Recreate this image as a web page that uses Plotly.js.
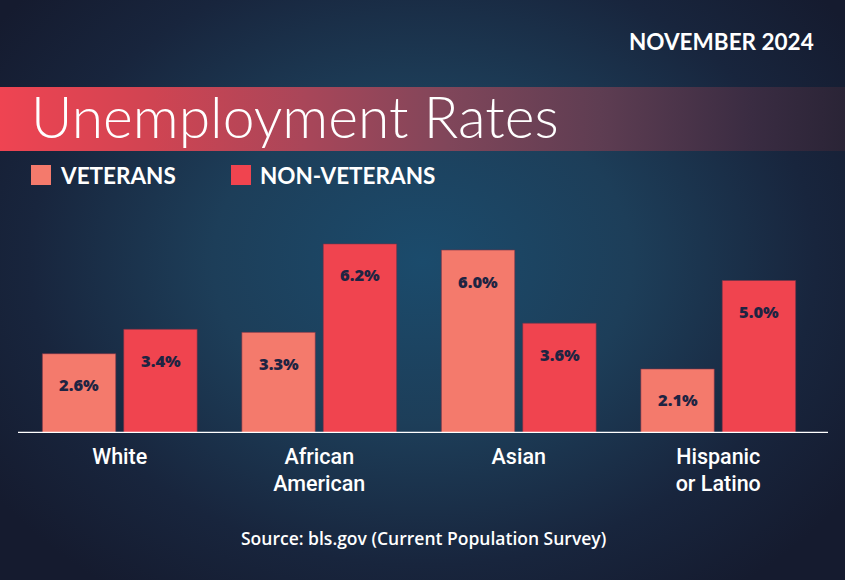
<!DOCTYPE html>
<html>
<head>
<meta charset="utf-8">
<script src="https://cdn.plot.ly/plotly-3.0.1.min.js"></script>
<style>
  html, body { margin: 0; padding: 0; }
  body {
    width: 845px; height: 580px; overflow: hidden; position: relative;
    background: radial-gradient(ellipse 62% 70% at 50% 45%, #1b4b6c 0%, #1d3e59 40%, #18253d 75%, #151b2f 100%);
  }
  #banner {
    position: absolute; left: 0; top: 87px; width: 845px; height: 64px;
    background: linear-gradient(to right, #ef4452 0%, #d04452 18%, #a94659 36%, #80465a 53%, #5e3d52 71%, #3a2c42 89%, #2a2436 100%);
  }
  #chart { position: absolute; left: 0; top: 0; width: 845px; height: 580px; }
</style>
</head>
<body>
<div id="banner"></div>
<div id="chart"></div>
<script>
// ---- data ----
const categories = ['White', 'African<br>American', 'Asian', 'Hispanic<br>or Latino'];
const veterans = [2.6, 3.3, 6.0, 2.1];
const nonVeterans = [3.4, 6.2, 3.6, 5.0];
const seriesNames = ['VETERANS', 'NON-VETERANS'];
const chartTitle = 'Unemployment Rates';
const dateLabel = 'NOVEMBER 2024';
const sourceLabel = 'Source: bls.gov (Current Population Survey)';

// ---- style ----
const vetColor = '#f47a6c';
const nonVetColor = '#f0444f';
const labelColor = '#1e2442';
const W = 845, H = 580;
const M = { l: 20, r: 27, t: 200, b: 147 };
const plotW = W - M.l - M.r, plotH = H - M.t - M.b;
const px2x = px => (px - M.l) / plotW;
const py2y = py => (H - M.b - py) / plotH;

const traces = [
  { type: 'bar', name: seriesNames[0], x: categories, y: veterans,
    marker: { color: vetColor, line: { color: 'rgba(120,50,70,0.6)', width: 1 } }, hoverinfo: 'none' },
  { type: 'bar', name: seriesNames[1], x: categories, y: nonVeterans,
    marker: { color: nonVetColor, line: { color: 'rgba(120,50,70,0.6)', width: 1 } }, hoverinfo: 'none' }
];

const annotations = [];
const shift = 40.75;
[veterans, nonVeterans].forEach((arr, si) => {
  arr.forEach((v, i) => {
    annotations.push({
      x: categories[i], y: v, xref: 'x', yref: 'y',
      xshift: si === 0 ? -shift : shift, yshift: -31,
      text: v.toFixed(1) + '%', showarrow: false,
      font: { family: 'Open Sans', size: 16.5, color: labelColor, weight: 800 },
      xanchor: 'center', yanchor: 'middle'
    });
  });
});
const boldFont = { family: 'Lato', size: 22.5, color: '#ffffff', weight: 700 };
// legend labels
annotations.push({ xref: 'paper', yref: 'paper', x: px2x(58), y: py2y(175), xanchor: 'left', yanchor: 'middle',
  text: seriesNames[0], showarrow: false, font: boldFont });
annotations.push({ xref: 'paper', yref: 'paper', x: px2x(258), y: py2y(175), xanchor: 'left', yanchor: 'middle',
  text: seriesNames[1], showarrow: false, font: boldFont });
// date
annotations.push({ xref: 'paper', yref: 'paper', x: px2x(816), y: py2y(41), xanchor: 'right', yanchor: 'middle',
  text: dateLabel, showarrow: false, font: boldFont });
// source
annotations.push({ xref: 'paper', yref: 'paper', x: px2x(423), y: py2y(538), xanchor: 'center', yanchor: 'middle',
  text: sourceLabel, showarrow: false, font: { family: 'Open Sans', size: 17.5, color: '#ffffff', weight: 600 } });

const shapes = [
  { type: 'rect', xref: 'paper', yref: 'paper', x0: px2x(31), x1: px2x(51), y0: py2y(185), y1: py2y(165),
    fillcolor: vetColor, line: { width: 0 } },
  { type: 'rect', xref: 'paper', yref: 'paper', x0: px2x(231), x1: px2x(251), y0: py2y(185), y1: py2y(165),
    fillcolor: nonVetColor, line: { width: 0 } },
  { type: 'line', xref: 'paper', yref: 'y', x0: px2x(18), x1: px2x(828), y0: 0, y1: 0,
    line: { color: '#ffffff', width: 2.5 } }
];

const layout = {
  width: W, height: H,
  margin: M,
  paper_bgcolor: 'rgba(0,0,0,0)', plot_bgcolor: 'rgba(0,0,0,0)',
  barmode: 'group', bargap: 0.184, bargroupgap: 0.098,
  showlegend: false,
  title: { text: chartTitle, xref: 'container', yref: 'container', x: 31 / W, xanchor: 'left',
    y: 1 - 118 / H, yanchor: 'middle',
    font: { family: 'Lato Light, Lato', size: 57, color: '#ffffff', weight: 300 } },
  xaxis: { type: 'category', range: [-0.5, 3.5], showgrid: false, zeroline: false, showline: false,
    ticks: '', ticklabelstandoff: 8,
    tickfont: { family: 'Roboto', size: 21.5, color: '#ffffff', weight: 500 }, fixedrange: true },
  yaxis: { range: [0, plotH / 30.5], showgrid: false, zeroline: false, showline: false,
    showticklabels: false, fixedrange: true },
  annotations: annotations,
  shapes: shapes
};

Plotly.newPlot('chart', traces, layout, { displayModeBar: false, staticPlot: true });
</script>
</body>
</html>
